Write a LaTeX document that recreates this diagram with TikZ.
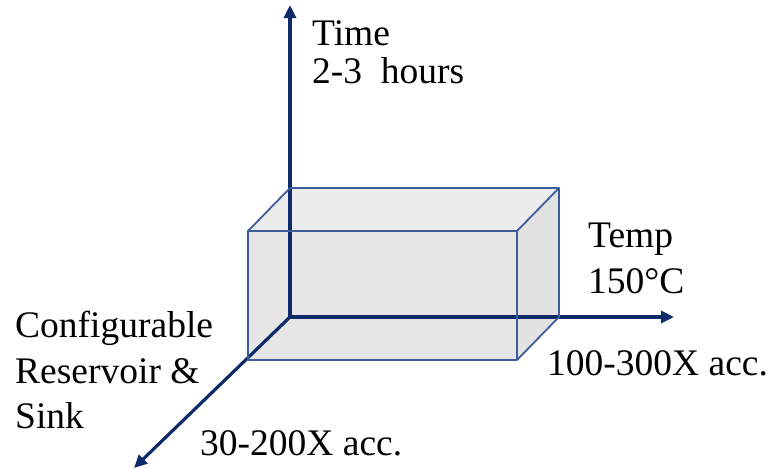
\documentclass[tikz,border=0pt]{standalone}
\usepackage{fontspec}
\setmainfont{Liberation Serif}
\usetikzlibrary{arrows.meta}
\definecolor{axiscol}{HTML}{0F2A68}
\definecolor{edgecol}{HTML}{3D5C9C}
\definecolor{frontfill}{HTML}{E6E6E6}
\definecolor{topfill}{HTML}{ECECEC}
\definecolor{sidefill}{HTML}{E2E2E2}
\begin{document}
\begin{tikzpicture}[x=1pt,y=-1pt,
  axis/.style={draw=axiscol,line width=3.2pt,-{Triangle[length=13pt,width=12pt]}},
  boxedge/.style={draw=edgecol,line width=1.8pt,line join=round},
  lbl/.style={inner sep=0pt,anchor=base west,font=\fontsize{37.5}{45}\selectfont}]
\useasboundingbox (0,0) rectangle (772,469);
% box corners
\coordinate (O) at (290,317);
\coordinate (BTL) at (290,188);
\coordinate (BTR) at (559,188);
\coordinate (BBR) at (559,317);
\coordinate (FTL) at (248,231);
\coordinate (FTR) at (517,231);
\coordinate (FBL) at (248,360);
\coordinate (FBR) at (517,360);
% faces
\fill[topfill] (FTL) -- (BTL) -- (BTR) -- (FTR) -- cycle;
\fill[sidefill] (FTR) -- (BTR) -- (BBR) -- (FBR) -- cycle;
\fill[frontfill] (FTL) -- (FTR) -- (FBR) -- (FBL) -- cycle;
% axes
\coordinate (Ytip) at (290,5);
\coordinate (Xtip) at (674,317);
\coordinate (Ztip) at (134,468);
\draw[axis] (O) -- (Ytip);
\draw[axis] (O) -- (Xtip);
\draw[axis] (O) -- (Ztip);
% box edges
\draw[boxedge] (FTL) -- (FTR) -- (FBR) -- (FBL) -- cycle;
\draw[boxedge] (FTL) -- (BTL) -- (BTR) -- (FTR);
\draw[boxedge] (BTR) -- (BBR) -- (FBR);
% labels
\node[lbl] (time) at (312,45) {Time};
\node[lbl] (hours) at (312,83) {2-3\ \ hours};
\node[lbl] (temp) at (588,247) {Temp};
\node[lbl] (deg) at (588,293) {150°C};
\node[lbl] (conf) at (15,337) {Configurable};
\node[lbl] (res) at (15,383) {Reservoir \&};
\node[lbl] (sink) at (15,428) {Sink};
\node[lbl] (xacc) at (547,375) {100-300X acc.};
\node[lbl] (zacc) at (200,455) {30-200X acc.};
\end{tikzpicture}
\end{document}
